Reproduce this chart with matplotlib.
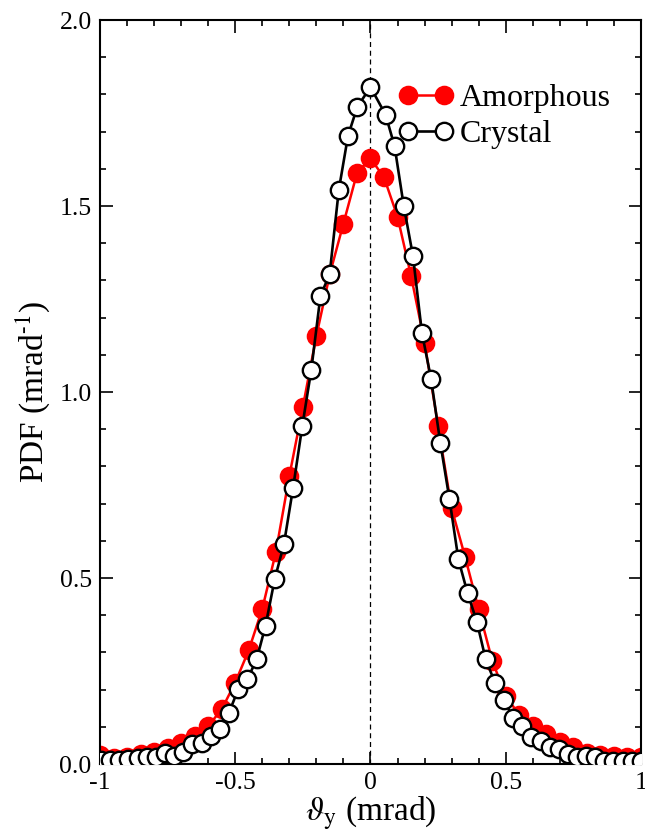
import numpy as np
import matplotlib
matplotlib.use('Agg')
import matplotlib.pyplot as plt
from matplotlib.ticker import MultipleLocator, FixedFormatter, FixedLocator

plt.rcParams['font.family'] = ['Liberation Serif', 'DejaVu Serif']
plt.rcParams['mathtext.fontset'] = 'stix'
plt.rcParams['axes.unicode_minus'] = False

# amorphous target: regular 0.05 mrad grid
amorph_x = [-1.0, -0.95, -0.9, -0.85, -0.8, -0.75, -0.7, -0.65, -0.6, -0.55,
            -0.5, -0.45, -0.4, -0.35, -0.3, -0.25, -0.2, -0.15, -0.1, -0.05,
            0.0, 0.05, 0.1, 0.15, 0.2, 0.25, 0.3, 0.35, 0.4, 0.45,
            0.5, 0.55, 0.6, 0.65, 0.7, 0.75, 0.8, 0.85, 0.9, 0.95, 1.0]
amorph_y = [0.024, 0.015, 0.018, 0.027, 0.031, 0.042, 0.057, 0.075, 0.102, 0.147,
            0.219, 0.306, 0.417, 0.569, 0.774, 0.960, 1.151, 1.318, 1.453, 1.588,
            1.628, 1.577, 1.471, 1.312, 1.133, 0.909, 0.687, 0.556, 0.416, 0.278,
            0.183, 0.132, 0.102, 0.081, 0.060, 0.045, 0.029, 0.024, 0.022, 0.020, 0.018]

# crystal target
cryst_x = [-0.996, -0.962, -0.928, -0.895, -0.861, -0.827, -0.793, -0.759, -0.726, -0.692,
           -0.658, -0.624, -0.590, -0.557, -0.523, -0.489, -0.455, -0.421, -0.388, -0.354,
           -0.320, -0.286, -0.252, -0.219, -0.185, -0.151, -0.117, -0.083, -0.049,
           0.0,
           0.056, 0.089, 0.123, 0.157, 0.190, 0.224, 0.258, 0.292, 0.325, 0.359,
           0.393, 0.426, 0.460, 0.494, 0.527, 0.561, 0.595, 0.629, 0.662, 0.696,
           0.730, 0.763, 0.797, 0.831, 0.864, 0.898, 0.932, 0.966, 0.999]
cryst_y = [0.011, 0.011, 0.011, 0.013, 0.015, 0.019, 0.020, 0.029, 0.022, 0.031,
           0.053, 0.057, 0.076, 0.093, 0.138, 0.201, 0.228, 0.281, 0.372, 0.497,
           0.591, 0.743, 0.909, 1.059, 1.258, 1.317, 1.544, 1.689, 1.766,
           1.820,
           1.745, 1.661, 1.500, 1.366, 1.160, 1.035, 0.864, 0.712, 0.550, 0.459,
           0.383, 0.281, 0.219, 0.172, 0.123, 0.102, 0.072, 0.063, 0.047, 0.040,
           0.027, 0.020, 0.022, 0.018, 0.008, 0.008, 0.008, 0.008, 0.008]

xticks = [-1, -0.5, 0, 0.5, 1]
xtick_labels = ['-1', '-0.5', '0', '0.5', '1']
yticks = [0.0, 0.5, 1.0, 1.5, 2.0]
ytick_labels = ['0.0', '0.5', '1.0', '1.5', '2.0']

fig = plt.figure(figsize=(6.45, 8.31), dpi=100)
ax = fig.add_axes([0.155, 0.0806, 0.8388, 0.8953])

ax.axvline(0, color='black', lw=0.9, ls=(0, (4, 3)), zorder=1)

ax.plot(amorph_x, amorph_y, color='red', lw=1.8, marker='o', ms=12.5,
        mfc='red', mec='red', mew=1.6, label='Amorphous', zorder=2)
ax.plot(cryst_x, cryst_y, color='black', lw=1.9, marker='o', ms=12.5,
        mfc='white', mec='black', mew=1.7, label='Crystal', zorder=3)

ax.set_xlim(-1, 1)
ax.set_ylim(0, 2)
ax.xaxis.set_major_locator(FixedLocator(xticks))
ax.xaxis.set_major_formatter(FixedFormatter(xtick_labels))
ax.yaxis.set_major_locator(FixedLocator(yticks))
ax.yaxis.set_major_formatter(FixedFormatter(ytick_labels))
ax.xaxis.set_minor_locator(MultipleLocator(0.1))
ax.yaxis.set_minor_locator(MultipleLocator(0.1))
ax.tick_params(which='both', direction='in', top=True, right=True, width=1.2)
ax.tick_params(which='major', length=9, labelsize=18.5, pad=6)
ax.tick_params(which='minor', length=4.5)
for s in ax.spines.values():
    s.set_linewidth(1.5)

ax.set_xlabel(r'$\vartheta_{\rm y}$ (mrad)', fontsize=24, labelpad=0)
ax.set_ylabel(r'PDF (mrad$^{\text{-1}}$)', fontsize=24, labelpad=5)

ax.legend(loc='upper right', bbox_to_anchor=(0.985, 0.944), frameon=False,
          fontsize=23, numpoints=2, handlelength=1.7, handletextpad=0.2,
          labelspacing=0.2, borderaxespad=0.3)

fig.savefig('out.png', dpi=100)
